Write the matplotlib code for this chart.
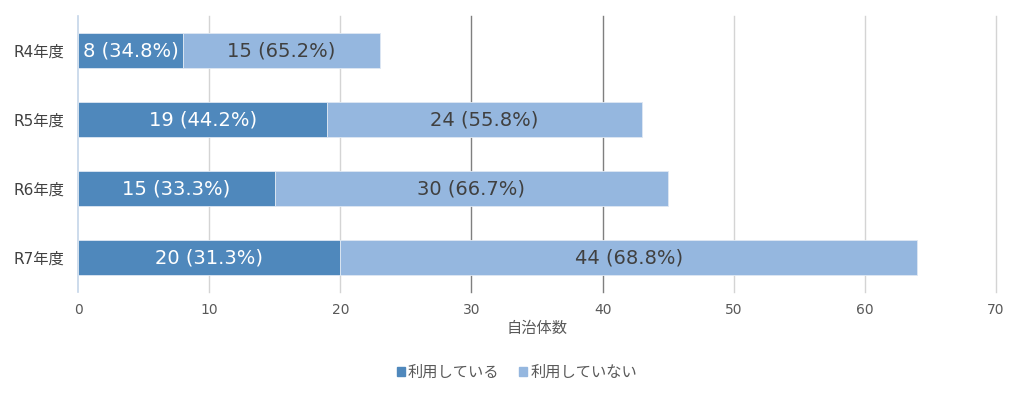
import matplotlib
matplotlib.use("Agg")
import matplotlib.pyplot as plt
from matplotlib.patches import Patch

plt.rcParams['font.family'] = ['DejaVu Sans', 'Noto Sans CJK JP']

# データ
years = ['R4年度', 'R5年度', 'R6年度', 'R7年度']
using = [8, 19, 15, 20]
not_using = [15, 24, 30, 44]
using_pct = ['34.8', '44.2', '33.3', '31.3']
not_using_pct = ['65.2', '55.8', '66.7', '68.8']
xticks = [0, 10, 20, 30, 40, 50, 60, 70]

c_dark = '#4f88bc'
c_light = '#95b7df'
txt_gray = '#595959'

fig = plt.figure(figsize=(10.24, 3.93), dpi=100)
ax = fig.add_axes([0.0762, 0.257, 0.8965, 0.702])

y = list(range(len(years)))
ax.barh(y, using, height=0.5, color=c_dark, edgecolor='#dfe8f3', linewidth=0.6, zorder=3)
ax.barh(y, not_using, left=using, height=0.5, color=c_light, edgecolor='#dfe8f3', linewidth=0.6, zorder=3)

# ラベル
for i in y:
    ax.text(using[i] / 2, i, f'{using[i]} ({using_pct[i]}%)', ha='center', va='center',
            color='white', fontsize=14, zorder=4)
    ax.text(using[i] + not_using[i] / 2, i, f'{not_using[i]} ({not_using_pct[i]}%)',
            ha='center', va='center', color='#404040', fontsize=14, zorder=4)

# グリッド（30,40 は濃い線）
for t in xticks[1:]:
    col = '#7f7f7f' if t in (30, 40) else '#d4d4d4'
    ax.axvline(t, color=col, lw=1.0, zorder=1, clip_on=False)

ax.set_xlim(0, 70)
ax.set_ylim(3.5, -0.5)
ax.set_xticks(xticks)
ax.set_yticks(y)
ax.set_yticklabels(years)
ax.tick_params(axis='x', length=0, pad=8, labelsize=10, labelcolor=txt_gray)
ax.tick_params(axis='y', length=0, pad=10, labelsize=11, labelcolor='#404040')
for s in ['top', 'right', 'bottom']:
    ax.spines[s].set_visible(False)
ax.spines['left'].set_color('#c5d5e9')
ax.spines['left'].set_linewidth(1.2)

ax.set_xlabel('自治体数', fontsize=11, color=txt_gray, labelpad=3)

handles = [Patch(color=c_dark, label='利用している'), Patch(color=c_light, label='利用していない')]
fig.legend(handles=handles, loc='center', bbox_to_anchor=(0.505, 0.053), ncol=2, frameon=False,
           fontsize=11, handlelength=0.5, handleheight=0.5, handletextpad=0.2, columnspacing=1.3,
           labelcolor=txt_gray)

fig.savefig('out.png', dpi=100, facecolor='white')
